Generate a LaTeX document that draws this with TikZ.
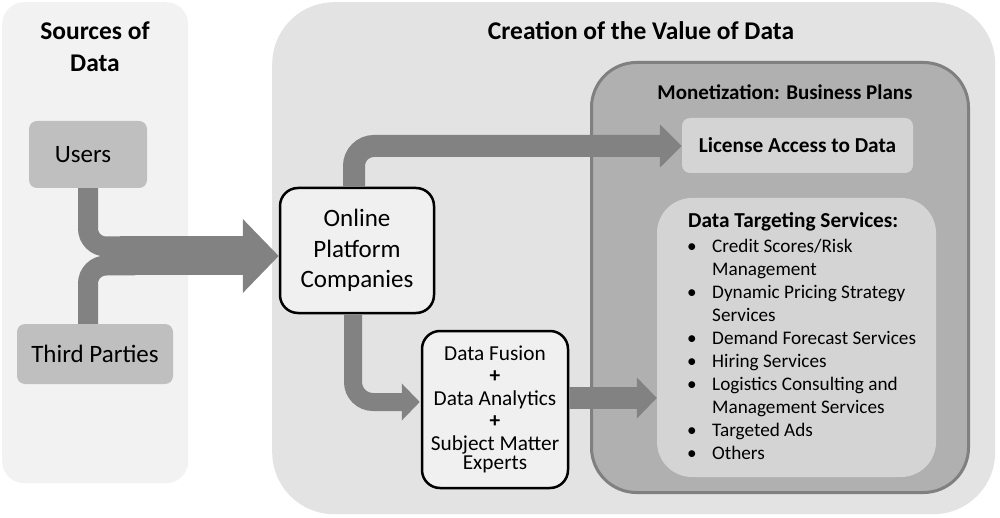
\documentclass[tikz,border=0pt]{standalone}
\usepackage{fontspec}
\setmainfont{Carlito}
\usetikzlibrary{arrows.meta}
\definecolor{srcbg}{gray}{0.95}
\definecolor{valbg}{gray}{0.89}
\definecolor{monfill}{gray}{0.69}
\definecolor{monborder}{gray}{0.50}
\definecolor{innerfill}{gray}{0.83}
\definecolor{srcbox}{gray}{0.75}
\definecolor{arrowgray}{gray}{0.51}
\definecolor{whitebox}{gray}{0.94}
\tikzset{
  panel/.style={rectangle, anchor=north west, inner sep=0pt},
  srcnode/.style={rectangle, rounded corners=8pt, fill=srcbox, inner sep=0pt,
    font=\fontsize{25}{30}\selectfont},
  blackbox/.style={rectangle, rounded corners=18pt, fill=whitebox, draw=black,
    line width=2.5pt, inner sep=0pt, align=center},
  title/.style={font=\fontsize{25.5}{32}\selectfont\bfseries, align=center, inner sep=0pt},
  flow/.style={draw=arrowgray, line width=#1},
  flow/.default=20pt
}
\begin{document}
\begin{tikzpicture}[x=1pt,y=-1pt]
\useasboundingbox (0,0) rectangle (1000,518);
% panels
\node[panel, fill=srcbg, rounded corners=22pt, minimum width=186pt, minimum height=481pt] (srcpanel) at (2,2) {};
\node[panel, fill=valbg, rounded corners=62pt, minimum width=723pt, minimum height=512pt] (valpanel) at (272,2) {};
\node[title] (srctitle) at (95,47) {Sources of\\Data};
\node[title] (valtitle) at (641,31) {Creation of the Value of Data};
\node[panel, fill=monfill, draw=monborder, line width=3pt, rounded corners=45pt, minimum width=377pt, minimum height=430pt] (mon) at (590,61) {};
\node[font=\fontsize{21}{24}\selectfont\bfseries, inner sep=0pt] (montitle) at (785,92) {Monetization: Business Plans};
\node[rectangle, fill=innerfill, rounded corners=8pt, minimum width=231pt, minimum height=55pt, inner sep=0pt,
  font=\fontsize{21.3}{24}\selectfont\bfseries] (license) at (797.5,145.5) {License Access to Data};
\node[rectangle, fill=innerfill, rounded corners=35pt, minimum width=279pt, minimum height=279pt, inner sep=0pt] (dts) at (796.5,337.5) {};
\node[anchor=west, inner sep=0pt, font=\fontsize{21.3}{24}\selectfont\bfseries] (dtstitle) at (688,222) {Data Targeting Services:};
\node[anchor=north west, inner sep=0pt, font=\fontsize{19.2}{23}\selectfont] (dtslist) at (687,236)
{\begin{tabular}{@{}p{25pt}@{}l@{}}
\textbullet & Credit Scores/Risk\\
 & Management\\
\textbullet & Dynamic Pricing Strategy\\
 & Services\\
\textbullet & Demand Forecast Services\\
\textbullet & Hiring Services\\
\textbullet & Logistics Consulting and\\
 & Management Services\\
\textbullet & Targeted Ads\\
\textbullet & Others
\end{tabular}};
% source boxes
\node[srcnode, minimum width=118pt, minimum height=67pt] (users) at (88,154.5) {\hspace*{-10pt}Users};
\node[srcnode, minimum width=156pt, minimum height=60pt] (third) at (95,354) {Third Parties};
% black boxes
\node[blackbox, minimum width=154pt, minimum height=125pt, font=\fontsize{25}{30.5}\selectfont] (ops) at (357,250.5) {Online\\Platform\\Companies};
\node[blackbox, minimum width=146pt, minimum height=157pt, font=\fontsize{21.3}{22.5}\selectfont] (df) at (495,409.5)
{Data Fusion\\[0pt]\textbf{+}\\[0pt]Data Analytics\\[0pt]\textbf{+}\\[0pt]Subject Matter\\[-3pt]Experts};
% connectors
\coordinate (j) at (120,256);
\coordinate (stemx) at (88,0);
\draw[flow=20pt, rounded corners=18pt] (users.south) -- (88,246.5) -- (135,246.5);
\draw[flow=20pt, rounded corners=18pt] (stemx |- third.north) -- (88,265.5) -- (135,265.5);
\draw[flow=39pt, -{Triangle[width=72pt,length=36pt]}] (j) -- (ops.west |- j);
\coordinate (upc) at (354,146);
\draw[flow=22pt, -{Triangle[width=42pt,length=22pt]}] (upc |- ops.north) [rounded corners=20pt] -- (upc) -- (license.west |- upc);
\coordinate (dnc) at (353,402);
\draw[flow=18pt, -{Triangle[width=36pt,length=18pt]}] (dnc |- ops.south) [rounded corners=20pt] -- (dnc) -- ([xshift=-1pt]df.west |- dnc);
\coordinate (rc) at (0,398);
\draw[flow=22pt, -{Triangle[width=40pt,length=20pt]}] (df.east |- rc) -- (dts.west |- rc);
\end{tikzpicture}
\end{document}
